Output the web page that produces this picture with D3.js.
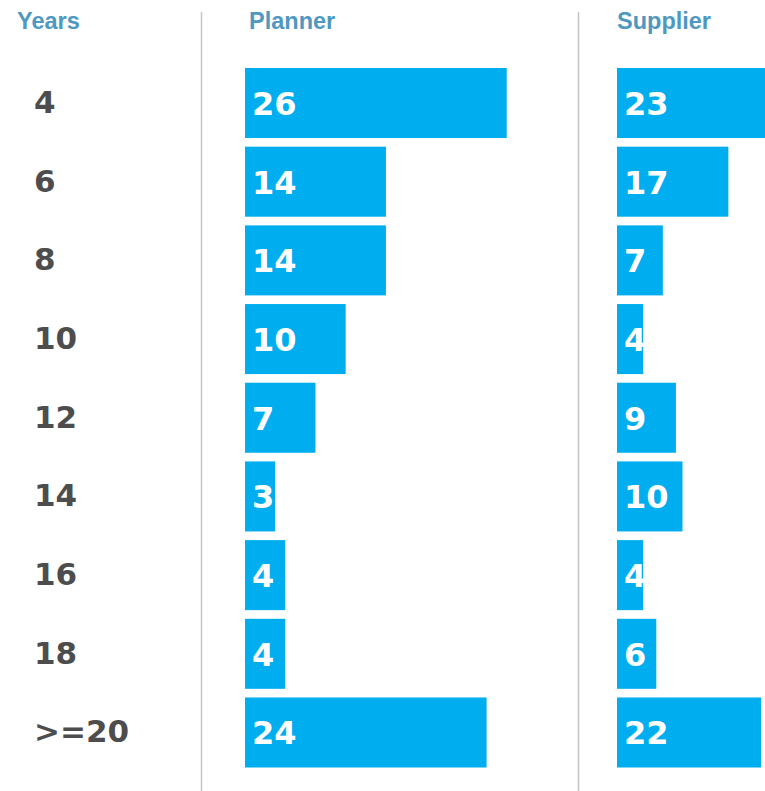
<!DOCTYPE html>
<html>
<head>
<meta charset="utf-8">
<script src="https://cdn.jsdelivr.net/npm/d3@7"></script>
<style>
  html, body { margin: 0; padding: 0; background: #fff; overflow: hidden; }
  svg { display: block; }
</style>
</head>
<body>
<svg id="chart" width="765" height="791"></svg>
<script>
const years = ["4", "6", "8", "10", "12", "14", "16", "18", ">=20"];
const planner = [26, 14, 14, 10, 7, 3, 4, 4, 24];
const supplier = [23, 17, 7, 4, 9, 10, 4, 6, 22];
const headers = ["Years", "Planner", "Supplier"];

const svg = d3.select("#chart");
const barColor = "#00aeef";
const headColor = "#4f98c0";
const yearColor = "#4d4d4d";

const y = d3.scaleBand().domain(years).range([68, 767.5]).paddingInner(0.11).paddingOuter(0);

const xPlanner = d3.scaleLinear().domain([0, 30]).range([245, 245 + 302]);
const xSupplier = d3.scaleLinear().domain([0, 30]).range([617, 617 + 196.5]);

// divider lines
[201.5, 578.5].forEach(x => {
  svg.append("line").attr("x1", x).attr("x2", x).attr("y1", 12).attr("y2", 791)
    .attr("stroke", "#c4c4c4").attr("stroke-width", 1.5);
});

// headers
const headX = [17, 249, 617];
svg.selectAll("text.head").data(headers).enter().append("text")
  .attr("class", "head")
  .attr("x", (d, i) => headX[i]).attr("y", 29)
  .attr("font-family", "'Liberation Sans', Arial, sans-serif")
  .attr("font-weight", "bold").attr("font-size", 23.5)
  .attr("fill", headColor).text(d => d);

// year labels
svg.selectAll("text.year").data(years).enter().append("text")
  .attr("class", "year")
  .attr("x", 34)
  .attr("y", d => y(d) + y.bandwidth() / 2 + 10)
  .attr("font-family", "'DejaVu Sans', sans-serif")
  .attr("font-weight", "bold").attr("font-size", 31)
  .attr("fill", yearColor).text(d => d);

function drawSeries(vals, xs, cls) {
  const g = svg.append("g").attr("class", cls);
  g.selectAll("rect").data(vals).enter().append("rect")
    .attr("x", xs(0))
    .attr("y", (d, i) => y(years[i]))
    .attr("width", d => xs(d) - xs(0))
    .attr("height", y.bandwidth())
    .attr("fill", barColor);
  g.selectAll("text").data(vals).enter().append("text")
    .attr("x", xs(0) + 7)
    .attr("y", (d, i) => y(years[i]) + y.bandwidth() / 2 + 12)
    .attr("font-family", "'DejaVu Sans', sans-serif")
    .attr("font-weight", "bold").attr("font-size", 32)
    .attr("fill", "#ffffff").text(d => d);
}
drawSeries(planner, xPlanner, "planner");
drawSeries(supplier, xSupplier, "supplier");
</script>
</body>
</html>
